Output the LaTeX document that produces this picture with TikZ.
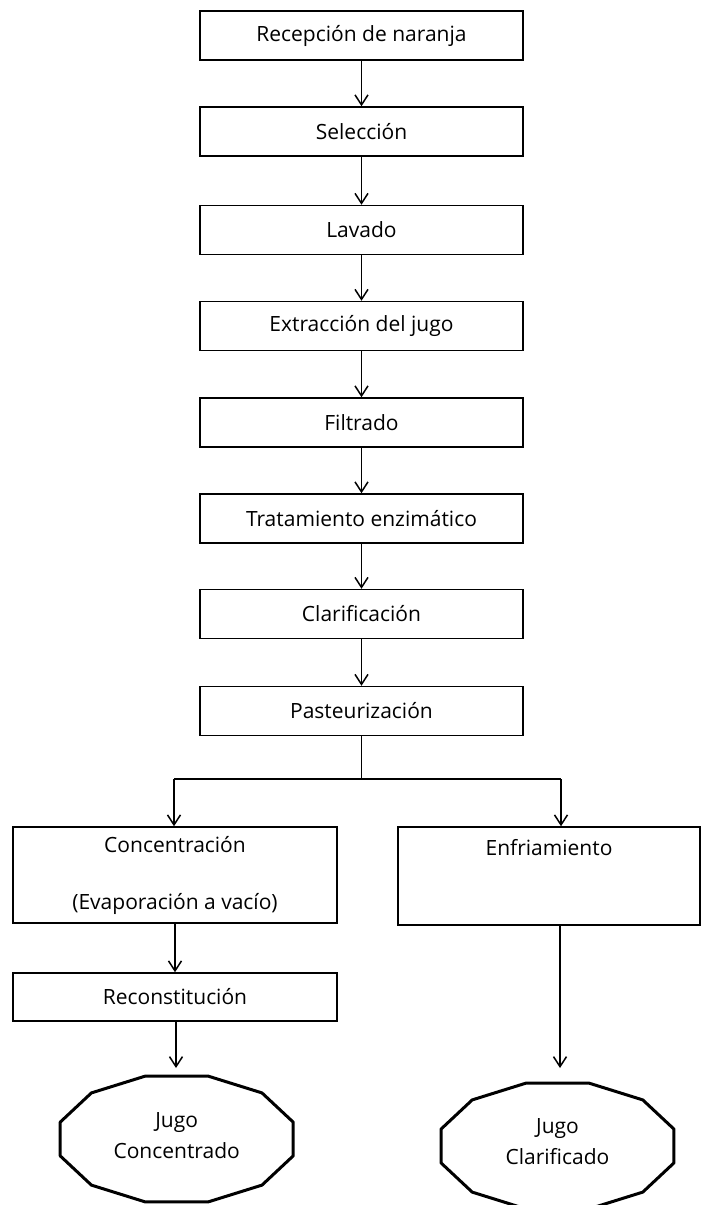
\documentclass[tikz,border=0pt]{standalone}
\usepackage{fontspec}
\setmainfont{Open Sans}
\usetikzlibrary{arrows.meta}
\begin{document}
\begin{tikzpicture}[x=1pt,y=-1pt,
  stepbox/.style={draw, rectangle, line width=1.5pt, inner sep=0pt,
    minimum width=323pt, minimum height=49pt, align=center,
    font=\fontsize{21}{25}\selectfont},
  sidebox/.style={stepbox, minimum width=324pt},
  endtext/.style={inner sep=0pt, align=center,
    font=\fontsize{21}{31}\selectfont},
  octo/.style={line width=3pt, line join=round},
  link/.style={line width=1.5pt},
  arr/.style={link, -{Straight Barb[length=10pt,width=13pt]}},
]
\useasboundingbox (0,0) rectangle (713,1205);

% main column
\node[stepbox] (rec) at (361.5,35.5)  {Recepción de naranja};
\node[stepbox] (sel) at (361.5,131.5) {Selección};
\node[stepbox] (lav) at (361.5,230)   {Lavado};
\node[stepbox] (ext) at (361.5,326)   {Extracción del jugo};
\node[stepbox] (fil) at (361.5,422.5) {Filtrado};
\node[stepbox] (tra) at (361.5,518.5) {Tratamiento enzimático};
\node[stepbox] (cla) at (361.5,614)   {Clarificación};
\node[stepbox] (pas) at (361.5,711)   {Pasteurización};

\foreach \a/\b in {rec/sel, sel/lav, lav/ext, ext/fil, fil/tra, tra/cla, cla/pas}
  \draw[arr] (\a) -- (\b);

% two branches
\node[sidebox, minimum height=96pt] (con) at (175,875)
  {Concentración\\[32pt](Evaporación a vacío)};
\node[stepbox, minimum width=302pt, minimum height=98pt] (enf) at (549,876)
  {Enfriamiento\\[32pt]~};
\node[sidebox, minimum height=48pt] (rcn) at (175,997) {Reconstitución};

\coordinate (split) at (361.5,779);
\coordinate (sl) at (174,779);
\coordinate (sr) at (561,779);
\draw[link] (pas) -- (split);
\draw[link] (sl) -- (sr);
\draw[arr] (sl) -- (sl |- con.north);
\draw[arr] (sr) -- (sr |- enf.north);
\draw[arr] (con.south -| rcn) -- (rcn);

% end products
\node[endtext] (j1) at (176.7,1136) {Jugo\\Concentrado};
\node[endtext] (j2) at (557.5,1142) {Jugo\\Clarificado};
\coordinate (c1) at (176.7,1139);
\coordinate (c2) at (557.5,1146);
\draw[octo] ([shift={(15:120.6 and 65.2)}]c1)
  \foreach \a in {45,75,...,345} { -- ([shift={(\a:120.6 and 65.2)}]c1)} -- cycle;
\draw[octo] ([shift={(15:120.6 and 65.2)}]c2)
  \foreach \a in {45,75,...,345} { -- ([shift={(\a:120.6 and 65.2)}]c2)} -- cycle;

\coordinate (e1) at (176,1068);
\coordinate (e2) at (560,1068);
\draw[arr] (rcn.south -| e1) -- (e1);
\draw[arr] (enf.south -| e2) -- (e2);
\end{tikzpicture}
\end{document}
